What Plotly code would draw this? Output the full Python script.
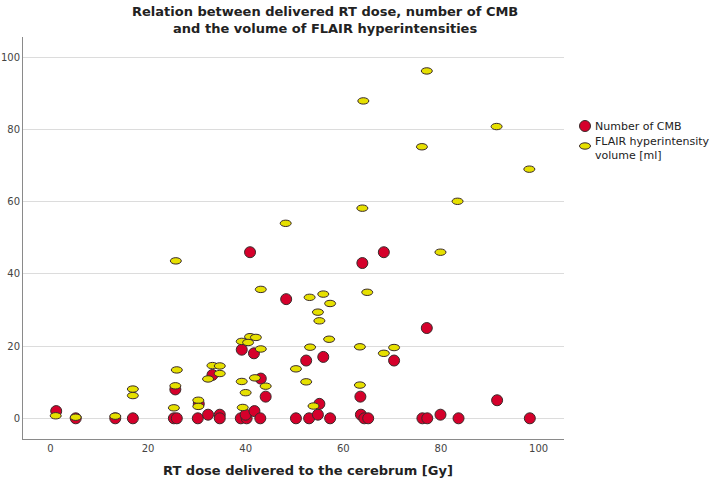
import plotly.graph_objects as go

# Number of CMB (red circles)
cmb_dose = [1.2, 5.2, 13.3, 16.9, 25.3, 25.9, 25.6, 30.2, 30.4, 32.3, 34.7, 34.7, 33.2,
            39.0, 40.2, 40.0, 41.8, 43.0, 39.2, 41.7, 40.9, 43.1, 44.1,
            50.3, 53.0, 54.8, 55.1, 57.3, 48.3, 52.4, 55.9,
            63.5, 63.6, 64.3, 65.1, 63.9, 68.3, 70.4,
            76.2, 77.2, 77.1, 79.9, 83.6, 91.5, 98.2]
cmb_count = [2, 0, 0, 0, 0, 0, 8, 0, 4, 1, 1, 0, 12,
             0, 0, 1, 2, 0, 19, 18, 46, 11, 6,
             0, 0, 1, 4, 0, 33, 16, 17,
             6, 1, 0, 0, 43, 46, 16,
             0, 0, 25, 1, 0, 5, 0]

# FLAIR hyperintensity volume [ml] (yellow ellipses)
flair_dose = [1.1, 5.2, 13.3, 16.9, 16.9, 25.3, 25.6, 25.9, 25.7, 30.3, 30.3,
              33.2, 34.7, 34.7, 32.3, 39.2, 40.9, 42.1, 40.5, 43.1, 43.1,
              39.2, 41.9, 44.1, 40.0, 39.4, 48.2, 50.3, 52.4, 53.2, 53.1,
              55.9, 57.3, 54.8, 55.1, 57.1, 53.9, 63.4, 63.4, 63.9, 64.1,
              64.9, 68.3, 70.4, 76.1, 77.1, 79.9, 83.4, 91.4, 98.1]
flair_vol = [0.7, 0.3, 0.6, 6.3, 8.1, 2.9, 9.0, 13.4, 43.6, 5.0, 3.3,
             14.6, 14.5, 12.4, 10.9, 21.3, 22.6, 22.4, 21.0, 19.2, 35.7,
             10.2, 11.2, 8.9, 7.1, 3.0, 54.0, 13.7, 10.1, 19.7, 33.5,
             34.4, 31.8, 29.4, 27.0, 21.9, 3.4, 19.8, 9.2, 58.2, 87.9,
             34.9, 18.0, 19.6, 75.2, 96.2, 46.0, 60.1, 80.8, 69.0]

y_ticks = [0, 20, 40, 60, 80, 100]
x_ticks = [0, 20, 40, 60, 80, 100]

RED = "#D5002B"
YELLOW = "#E6E000"
EDGE = "#3a2a2a"
FONT = "DejaVu Sans"

fig = go.Figure()
fig.add_trace(go.Scatter(
    x=cmb_dose, y=cmb_count, mode="markers", name="Number of CMB",
    marker=dict(symbol="circle", size=11, color=RED, line=dict(color=EDGE, width=1)),
    showlegend=False, cliponaxis=False))
fig.add_trace(go.Scatter(
    x=flair_dose, y=flair_vol, mode="markers", name="FLAIR hyperintensity volume [ml]",
    marker=dict(symbol="circle", size=10, color="rgba(0,0,0,0)", line=dict(width=0)),
    showlegend=False))

# yellow ellipses anchored on the data coordinates, size in pixels
for xv, yv in zip(flair_dose, flair_vol):
    fig.add_shape(type="circle", xref="x", yref="y", xsizemode="pixel", ysizemode="pixel",
                  xanchor=xv, yanchor=yv, x0=-5.5, x1=5.5, y0=-3.2, y1=3.2,
                  fillcolor=YELLOW, line=dict(color=EDGE, width=1), layer="above")

# pixel helpers for the 714x480 canvas
PL, PR, PT, PB = 23, 564, 37, 439
PW = float(PR - PL)
PH = float(PB - PT)
def px_x(p):
    return (p - PL) / PW
def px_y(p):
    return (PB - p) / PH

# manual legend
fig.add_shape(type="circle", xref="paper", yref="paper", xsizemode="pixel", ysizemode="pixel",
              xanchor=px_x(585), yanchor=px_y(126), x0=-5.5, x1=5.5, y0=-5.5, y1=5.5,
              fillcolor=RED, line=dict(color=EDGE, width=1))
fig.add_shape(type="circle", xref="paper", yref="paper", xsizemode="pixel", ysizemode="pixel",
              xanchor=px_x(585), yanchor=px_y(146), x0=-5.5, x1=5.5, y0=-3.2, y1=3.2,
              fillcolor=YELLOW, line=dict(color=EDGE, width=1))
fig.add_annotation(xref="paper", yref="paper", x=px_x(593), y=px_y(126), xanchor="left",
                   yanchor="middle", showarrow=False, align="left",
                   text="Number of CMB", font=dict(family=FONT, size=11, color="#222"))
fig.add_annotation(xref="paper", yref="paper", x=px_x(593), y=px_y(148), xanchor="left",
                   yanchor="middle", showarrow=False, align="left",
                   text="FLAIR hyperintensity<br>volume [ml]",
                   font=dict(family=FONT, size=11, color="#222"))

# chart title
fig.add_annotation(xref="paper", yref="paper", x=px_x(325), y=px_y(2), xanchor="center",
                   yanchor="top", showarrow=False, align="center",
                   text="<b>Relation between delivered RT dose, number of CMB<br>and the volume of FLAIR hyperintensities</b>",
                   font=dict(family=FONT, size=13, color="#222"))

# x-axis title
fig.add_annotation(xref="paper", yref="paper", x=px_x(308), y=px_y(470), xanchor="center",
                   yanchor="middle", showarrow=False,
                   text="<b>RT dose delivered to the cerebrum [Gy]</b>",
                   font=dict(family=FONT, size=13, color="#222"))

fig.update_layout(
    width=714, height=480,
    margin=dict(l=PL, r=714 - PR, t=PT, b=480 - PB, autoexpand=False),
    paper_bgcolor="white", plot_bgcolor="white",
    showlegend=False,
    xaxis=dict(range=[-5.6, 105.2], tickvals=x_ticks, showgrid=False, zeroline=False,
               showline=True, linecolor="#8a8a8a", linewidth=1, ticks="", automargin=False,
               tickfont=dict(family=FONT, size=10, color="#444")),
    yaxis=dict(range=[-5.73, 105.6], tickvals=y_ticks, showgrid=True, gridcolor="#dcdcdc",
               gridwidth=1, zeroline=False, showline=True, linecolor="#8a8a8a", linewidth=1,
               ticks="", automargin=False,
               tickfont=dict(family=FONT, size=10, color="#444")),
)

fig.write_html("out.html")
